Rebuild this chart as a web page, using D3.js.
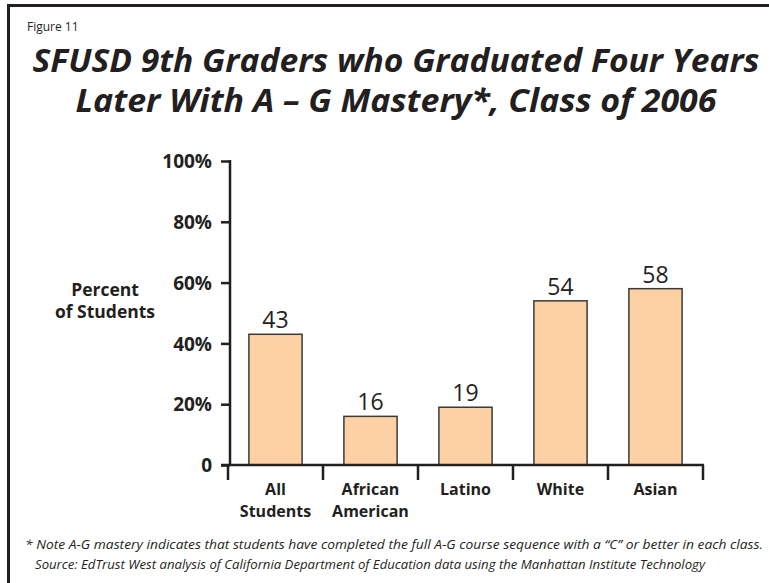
<!DOCTYPE html>
<meta charset="utf-8">
<style>
    body { margin: 0; background: white; }
    svg { display: block; background: white; }
    text { font-family: "Open Sans", "Noto Sans", sans-serif; fill: #231f20; }
    .title { font-weight: 700; font-style: italic; font-size: 32px; }
    .tick-lbl { font-weight: 700; font-size: 19px; }
    .ytitle { font-weight: 700; font-size: 17.5px; }
    .cat { font-weight: 700; font-size: 16px; }
    .val { font-size: 23px; }
    .note { font-style: italic; font-size: 13.5px; }
</style>
<svg width="769" height="583"></svg>
<script src="https://d3js.org/d3.v7.min.js"></script>
<script>
    // data
    var categories = ["All Students", "African American", "Latino", "White", "Asian"];
    var catLines = [["All", "Students"], ["African", "American"], ["Latino"], ["White"], ["Asian"]];
    var values = [43, 16, 19, 54, 58];
    var yTicks = [0, 20, 40, 60, 80, 100];
    var titleLines = ["SFUSD 9th Graders who Graduated Four Years", "Later With A \u2013 G Mastery*, Class of 2006"];
    var notes = ["* Note A-G mastery indicates that students have completed the full A-G course sequence with a \u201CC\u201D or better in each class.",
                 "Source: EdTrust West analysis of California Department of Education data using the Manhattan Institute Technology"];

    var svg = d3.select("svg");

    // frame
    svg.append("path")
        .attr("d", "M8.5,590 V5.5 H780")
        .attr("fill", "none")
        .attr("stroke", "#231f20")
        .attr("stroke-width", 3);

    svg.append("text")
        .attr("x", 27).attr("y", 31)
        .style("font-size", "12px")
        .text("Figure 11");

    svg.selectAll(".title")
        .data(titleLines)
        .enter().append("text")
        .attr("class", "title")
        .attr("x", 396)
        .attr("y", function (d, i) { return 72 + i * 40; })
        .attr("text-anchor", "middle")
        .attr("textLength", function (d, i) { return i == 0 ? 727 : 641; })
        .attr("lengthAdjust", "spacingAndGlyphs")
        .text(function (d) { return d; });

    var x = d3.scaleBand()
        .domain(categories)
        .range([228, 703])
        .paddingInner(0.44)
        .paddingOuter(0.22);

    var y = d3.scaleLinear()
        .domain([0, 100])
        .range([465, 161]);

    var g = svg.append("g");

    // bars
    g.selectAll(".bar")
        .data(values)
        .enter().append("rect")
        .attr("class", "bar")
        .attr("x", function (d, i) { return x(categories[i]); })
        .attr("y", function (d) { return y(d); })
        .attr("width", x.bandwidth())
        .attr("height", function (d) { return y(0) - y(d); })
        .attr("fill", "#fdd1a4")
        .attr("stroke", "#3a3a3a")
        .attr("stroke-width", 1.5);

    g.selectAll(".val")
        .data(values)
        .enter().append("text")
        .attr("class", "val")
        .attr("x", function (d, i) { return x(categories[i]) + x.bandwidth() / 2; })
        .attr("y", function (d) { return y(d) - 6; })
        .attr("text-anchor", "middle")
        .text(function (d) { return d; });

    // y axis
    var yAxis = g.append("g")
        .attr("transform", "translate(230,0)")
        .call(d3.axisLeft(y).tickValues(yTicks).tickSize(9).tickPadding(9)
            .tickFormat(function (d) { return d == 0 ? "0" : d + "%"; }));
    yAxis.select(".domain").remove();
    yAxis.selectAll("line").attr("stroke", "#231f20").attr("stroke-width", 2.5);
    yAxis.selectAll("text").attr("class", "tick-lbl").attr("dy", "0.35em").attr("fill", "#231f20");
    g.append("line")
        .attr("x1", 230).attr("x2", 230)
        .attr("y1", y(100) - 1).attr("y2", y(0) + 1)
        .attr("stroke", "#231f20").attr("stroke-width", 2.5);

    // x axis
    var edges = categories.map(function (c) { return x(c) - x.step() * x.paddingInner() / 2; });
    edges.push(x(categories[categories.length - 1]) + x.bandwidth() + x.step() * x.paddingInner() / 2);
    g.append("line")
        .attr("x1", 221).attr("x2", edges[edges.length - 1] + 1)
        .attr("y1", y(0)).attr("y2", y(0))
        .attr("stroke", "#231f20").attr("stroke-width", 2.5);
    g.selectAll(".divider")
        .data(edges)
        .enter().append("line")
        .attr("x1", function (d) { return d; }).attr("x2", function (d) { return d; })
        .attr("y1", y(0)).attr("y2", y(0) + 15)
        .attr("stroke", "#231f20").attr("stroke-width", 2.5);

    var cat = g.selectAll(".cat")
        .data(catLines)
        .enter().append("text")
        .attr("class", "cat")
        .attr("text-anchor", "middle")
        .attr("x", function (d, i) { return x(categories[i]) + x.bandwidth() / 2; })
        .attr("y", 495);
    cat.selectAll("tspan")
        .data(function (d) { return d; })
        .enter().append("tspan")
        .attr("x", function () { return d3.select(this.parentNode).attr("x"); })
        .attr("dy", function (d, i) { return i == 0 ? 0 : 22; })
        .text(function (d) { return d; });

    // y title
    svg.append("text")
        .attr("class", "ytitle")
        .attr("text-anchor", "middle")
        .attr("x", 105).attr("y", 296)
        .selectAll("tspan")
        .data(["Percent", "of Students"])
        .enter().append("tspan")
        .attr("x", 105)
        .attr("dy", function (d, i) { return i == 0 ? 0 : 22; })
        .text(function (d) { return d; });

    // footnotes
    svg.selectAll(".note")
        .data(notes)
        .enter().append("text")
        .attr("class", "note")
        .attr("x", function (d, i) { return i == 0 ? 25 : 35; })
        .attr("y", function (d, i) { return 549 + i * 20; })
        .attr("textLength", function (d, i) { return i == 0 ? 738 : 670; })
        .attr("lengthAdjust", "spacingAndGlyphs")
        .text(function (d) { return d; });
</script>
